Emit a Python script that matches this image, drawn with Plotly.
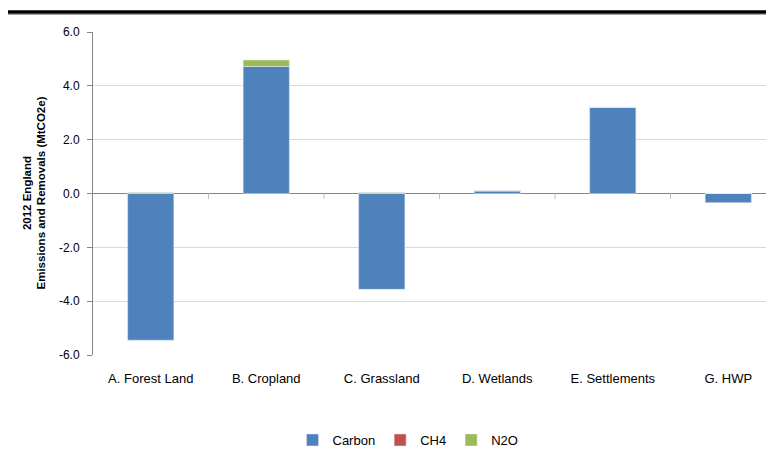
import plotly.graph_objects as go

categories = ["A. Forest Land", "B. Cropland", "C. Grassland", "D. Wetlands", "E. Settlements", "G. HWP"]
carbon = [-5.45, 4.72, -3.56, 0.10, 3.20, -0.34]
ch4 = [0.02, 0.0, 0.02, 0.0, 0.0, 0.0]
n2o = [0.02, 0.24, 0.02, 0.0, 0.0, 0.0]
y_ticks = [-6, -4, -2, 0, 2, 4, 6]
y_tick_labels = ["-6.0", "-4.0", "-2.0", "0.0", "2.0", "4.0", "6.0"]

font_family = "Liberation Sans Narrow, Liberation Sans, Arial"

fig = go.Figure()
fig.add_bar(name="Carbon", x=categories, y=carbon, marker_color="#4F81BD")
fig.add_bar(name="CH4", x=categories, y=ch4, marker_color="#C0504D")
fig.add_bar(name="N2O", x=categories, y=n2o, marker_color="#9BBB59")

# page body has an 8px default margin; compensate
OFF = 8
L, R, T, B = 93 - OFF, 0, 32 - OFF, 100
W, H = 774 - OFF, 455 - OFF
pw, ph = W - L - R, H - T - B

def py(ypx):
    return (H - B - (ypx - OFF)) / ph

def px(xpx):
    return (xpx - OFF - L) / pw

shapes = []
for k in range(1, 6):
    shapes.append(dict(type="line", xref="x", yref="y", x0=k - 0.5, x1=k - 0.5,
                       y0=0, y1=-0.2, line=dict(color="#BFBFBF", width=1)))
shapes.append(dict(type="line", xref="paper", yref="paper", x0=px(0), x1=1,
                   y0=py(12), y1=py(12), line=dict(color="black", width=3.5)))
shapes.append(dict(type="line", xref="paper", yref="paper", x0=px(0), x1=1,
                   y0=py(14.5), y1=py(14.5), line=dict(color="#A6A6A6", width=1)))

fig.update_layout(
    width=W, height=H,
    margin=dict(l=L, r=R, t=T, b=B),
    barmode="relative",
    bargap=0.6,
    plot_bgcolor="white", paper_bgcolor="white",
    font=dict(family=font_family, size=12, color="black"),
    xaxis=dict(range=[-0.5, 5.396], showgrid=False, showline=False, ticks="",
               tickfont=dict(size=13), zeroline=False, ticklabelstandoff=14),
    yaxis=dict(range=[-6, 6], tickvals=y_ticks, ticktext=y_tick_labels,
               showgrid=True, gridcolor="#D9D9D9", gridwidth=1,
               zeroline=True, zerolinecolor="#868686", zerolinewidth=1,
               showline=True, linecolor="#868686", linewidth=1,
               ticks="outside", ticklen=5, tickcolor="#868686",
               tickfont=dict(size=12), ticklabelstandoff=5),
    legend=dict(orientation="h", x=px(408), xanchor="center",
                y=py(440), yanchor="middle", itemwidth=30,
                font=dict(size=13), traceorder="normal"),
    shapes=shapes,
    annotations=[dict(text="<b>2012 England<br>Emissions and Removals (MtCO2e)</b>",
                      xref="paper", yref="paper", x=px(34), y=0.5,
                      textangle=-90, showarrow=False, xanchor="center", yanchor="middle",
                      font=dict(size=11.5))],
)

fig.write_html("out.html")
